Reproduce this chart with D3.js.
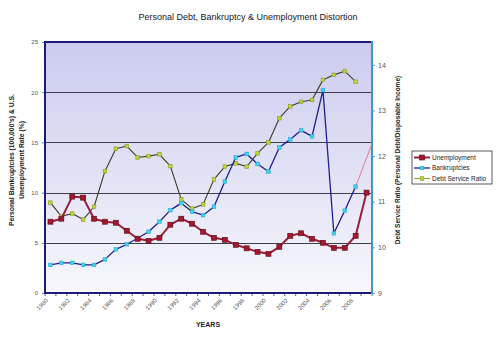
<!DOCTYPE html>
<html>
<head>
<meta charset="utf-8">
<script src="https://cdn.jsdelivr.net/npm/d3@7"></script>
<style>
  html, body { margin: 0; padding: 0; background: #ffffff; }
  svg { display: block; font-family: Arial, "Liberation Sans", sans-serif; }
</style>
</head>
<body>
<svg id="chart" width="499" height="341"></svg>
<script>
// Years on the category axis
const years = d3.range(1980, 2010);
const yearLabels = d3.range(1980, 2010, 2);

// U.S. unemployment rate (%), 1980-2009
const unemployment = [7.1, 7.4, 9.6, 9.5, 7.4, 7.1, 7.0, 6.2, 5.4, 5.2,
                      5.5, 6.8, 7.4, 6.9, 6.1, 5.5, 5.3, 4.8, 4.45, 4.1,
                      3.9, 4.6, 5.7, 5.95, 5.4, 5.0, 4.5, 4.5, 5.7, 10.0];

// Personal bankruptcies (100,000's), 1980-2008
const bankruptcies = [2.8, 3.0, 3.0, 2.8, 2.8, 3.35, 4.35, 4.85, 5.45, 6.1,
                      7.1, 8.25, 8.95, 8.1, 7.75, 8.6, 11.1, 13.5, 13.85, 12.85,
                      12.1, 14.5, 15.3, 16.2, 15.6, 20.2, 5.95, 8.2, 10.6];

// Projected bankruptcy trend beyond 2008 (runs off the plot edge)
const bankruptcyTrendYears = [2008, 2010];
const bankruptcyTrend = [10.6, 16.3];

// Debt service ratio (personal debt / disposable income, %), 1980-2008
const debtService = [10.98, 10.68, 10.74, 10.61, 10.89, 11.67, 12.16, 12.22, 11.97, 12.0,
                     12.04, 11.78, 11.05, 10.85, 10.94, 11.49, 11.77, 11.84, 11.77, 12.06,
                     12.30, 12.83, 13.09, 13.19, 13.23, 13.67, 13.78, 13.86, 13.63];

const leftTicks = [0, 5, 10, 15, 20, 25];
const rightTicks = [9, 10, 11, 12, 13, 14];
const gridValues = [5, 10, 15, 20];

const svg = d3.select("#chart");
const plot = { left: 45, right: 372, top: 42, bottom: 293 };

const x = d3.scaleBand().domain(years).range([plot.left, plot.right]);
const xc = yr => x(yr) + x.bandwidth() / 2;
// continuous position for years that may fall outside the band domain
const xYear = d3.scaleLinear().domain([1980, 2009]).range([xc(1980), xc(2009)]);
const yL = d3.scaleLinear().domain([0, 25]).range([plot.bottom, plot.top]);
const yR = d3.scaleLinear().domain([9, 14.5]).range([plot.bottom, plot.top]);

// Plot background: lavender fading to near white
const defs = svg.append("defs");
const grad = defs.append("linearGradient").attr("id", "bg")
  .attr("x1", 0).attr("y1", 0).attr("x2", 0).attr("y2", 1);
grad.append("stop").attr("offset", "0%").attr("stop-color", "#cbcbef");
grad.append("stop").attr("offset", "100%").attr("stop-color", "#f7f7fc");
defs.append("clipPath").attr("id", "plotClip").append("rect")
  .attr("x", plot.left).attr("y", plot.top)
  .attr("width", plot.right - plot.left).attr("height", plot.bottom - plot.top);

svg.append("rect")
  .attr("x", plot.left).attr("y", plot.top)
  .attr("width", plot.right - plot.left).attr("height", plot.bottom - plot.top)
  .attr("fill", "url(#bg)");

// Horizontal gridlines
svg.append("g").selectAll("line").data(gridValues).join("line")
  .attr("x1", plot.left).attr("x2", plot.right)
  .attr("y1", d => Math.round(yL(d)) + 0.5).attr("y2", d => Math.round(yL(d)) + 0.5)
  .attr("stroke", "#3e3e4e").attr("stroke-width", 1);

// Title
svg.append("text").attr("x", 248).attr("y", 20).attr("text-anchor", "middle")
  .attr("font-size", 9).attr("fill", "#15152a")
  .text("Personal Debt, Bankruptcy & Unemployment Distortion");

// Left axis
const leftAxis = svg.append("g").attr("transform", `translate(${plot.left},0)`)
  .call(d3.axisLeft(yL).tickValues(leftTicks).tickFormat(d3.format("d")).tickSize(3).tickPadding(4));
leftAxis.select(".domain").remove();
leftAxis.selectAll(".tick line").attr("stroke", "#3fa0c8");
leftAxis.selectAll(".tick text").attr("font-size", 6).attr("fill", "#555")
  .attr("font-family", "Arial, 'Liberation Sans', sans-serif");

// Right axis
const rightAxis = svg.append("g").attr("transform", `translate(${plot.right},0)`)
  .call(d3.axisRight(yR).tickValues(rightTicks).tickFormat(d3.format("d")).tickSize(3).tickPadding(3));
rightAxis.select(".domain").remove();
rightAxis.selectAll(".tick line").attr("stroke", "#3fa0c8");
rightAxis.selectAll(".tick text").attr("font-size", 7).attr("fill", "#555")
  .attr("font-family", "Arial, 'Liberation Sans', sans-serif");

// Bottom axis: tick marks on category boundaries, labels every other year
const bottom = svg.append("g");
bottom.selectAll("line.tk").data(years.concat([2010])).join("line").attr("class", "tk")
  .attr("x1", (d, i) => plot.left + i * x.step()).attr("x2", (d, i) => plot.left + i * x.step())
  .attr("y1", plot.bottom).attr("y2", plot.bottom + 3)
  .attr("stroke", "#2a3a8a").attr("stroke-width", 0.8);
bottom.selectAll("text").data(yearLabels).join("text")
  .attr("transform", d => `translate(${xc(d) - 2},${plot.bottom + 8}) rotate(-45)`)
  .attr("text-anchor", "end").attr("font-size", 6).attr("fill", "#555")
  .text(d => d);

// Plot frame: navy left/top/bottom, teal right axis
svg.append("path")
  .attr("d", `M${plot.right},${plot.top}H${plot.left}V${plot.bottom}H${plot.right}`)
  .attr("fill", "none").attr("stroke", "#1c1c78").attr("stroke-width", 2);
svg.append("line").attr("x1", plot.right).attr("x2", plot.right)
  .attr("y1", plot.top - 1).attr("y2", plot.bottom + 1)
  .attr("stroke", "#3a9cc0").attr("stroke-width", 2);

// Axis titles
svg.append("text").attr("transform", "translate(14,160) rotate(-90)")
  .attr("text-anchor", "middle").attr("font-size", 6.8).attr("font-weight", "bold").attr("fill", "#222")
  .text("Personal Bankruptcies (100,000's) & U.S.");
svg.append("text").attr("transform", "translate(24,160) rotate(-90)")
  .attr("text-anchor", "middle").attr("font-size", 6.8).attr("font-weight", "bold").attr("fill", "#222")
  .text("Unemployment Rate (%)");
svg.append("text").attr("transform", "translate(400,160) rotate(-90)")
  .attr("text-anchor", "middle").attr("font-size", 6.5).attr("font-weight", "bold").attr("fill", "#222")
  .text("Debt Service Ratio (Personal Debt/Disposable Income)");
svg.append("text").attr("x", 208).attr("y", 327).attr("text-anchor", "middle")
  .attr("font-size", 7).attr("font-weight", "bold").attr("fill", "#222")
  .text("YEARS");

// Series
const series = [
  { name: "Unemployment", values: unemployment, y: yL, line: "#96203a", lw: 2,
    fill: "#a3182e", stroke: "#5a0a14", size: 5 },
  { name: "Bankruptcies", values: bankruptcies, y: yL, line: "#1e1e8c", lw: 1.3,
    fill: "#3fd2f2", stroke: "#2aa8d0", size: 3.6 },
  { name: "Debt Service Ratio", values: debtService, y: yR, line: "#3a3a2a", lw: 1.1,
    fill: "#c2d23c", stroke: "#8a9a20", size: 3.6 }
];

const plotG = svg.append("g").attr("clip-path", "url(#plotClip)");

// Bankruptcy trend segment (thin, runs past the last category)
const trendLine = d3.line().x((d, i) => xYear(bankruptcyTrendYears[i])).y(d => yL(d));
plotG.append("path").datum(bankruptcyTrend)
  .attr("d", trendLine).attr("fill", "none")
  .attr("stroke", "#e07088").attr("stroke-width", 0.9);

// Draw debt service first, then bankruptcies, then unemployment on top
[series[2], series[1], series[0]].forEach(s => {
  const line = d3.line().x((d, i) => xc(years[i])).y(d => s.y(d));
  svg.append("path").datum(s.values)
    .attr("d", line).attr("fill", "none")
    .attr("stroke", s.line).attr("stroke-width", s.lw).attr("stroke-linejoin", "round");
  svg.append("g").selectAll("rect").data(s.values).join("rect")
    .attr("x", (d, i) => xc(years[i]) - s.size / 2)
    .attr("y", d => s.y(d) - s.size / 2)
    .attr("width", s.size).attr("height", s.size)
    .attr("fill", s.fill).attr("stroke", s.stroke).attr("stroke-width", 0.6);
});

// Legend
const lg = svg.append("g");
lg.append("rect").attr("x", 412).attr("y", 151).attr("width", 80).attr("height", 33)
  .attr("fill", "#ffffff").attr("stroke", "#333").attr("stroke-width", 0.8);
series.forEach((s, i) => {
  const yy = 157.5 + i * 10.5;
  lg.append("line").attr("x1", 414).attr("x2", 430).attr("y1", yy).attr("y2", yy)
    .attr("stroke", i === 2 ? "#9aa040" : s.line).attr("stroke-width", s.lw);
  lg.append("rect").attr("x", 422 - s.size / 2).attr("y", yy - s.size / 2)
    .attr("width", s.size).attr("height", s.size)
    .attr("fill", s.fill).attr("stroke", s.stroke).attr("stroke-width", 0.6);
  lg.append("text").attr("x", 432).attr("y", yy + 2.2)
    .attr("font-size", 6.5).attr("fill", "#222").text(s.name);
});
</script>
</body>
</html>
